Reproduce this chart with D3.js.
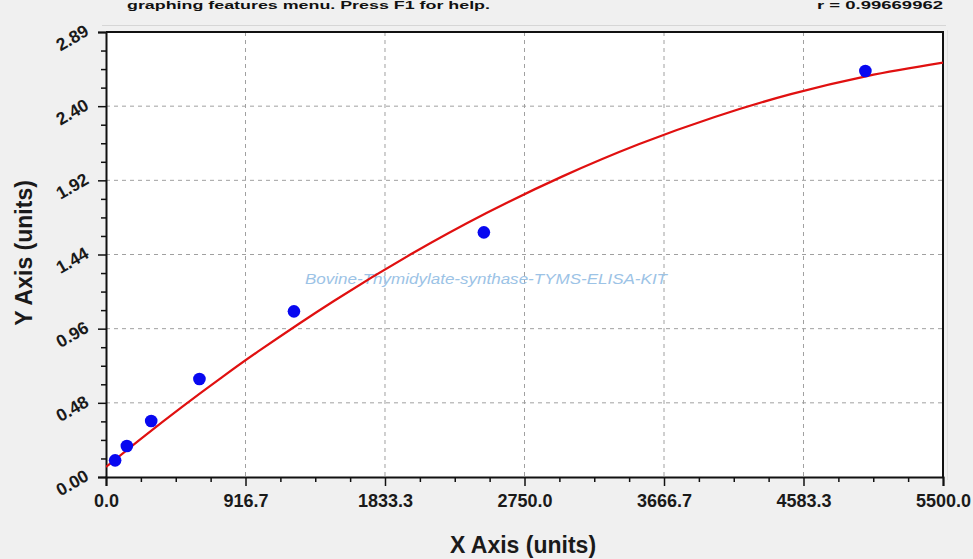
<!DOCTYPE html>
<html>
<head>
<meta charset="utf-8">
<script src="https://cdn.jsdelivr.net/npm/d3@7/dist/d3.min.js"></script>
<style>
  html, body { margin: 0; padding: 0; background: #f0f0f0; }
  svg { display: block; }
  text { font-family: "Liberation Sans", Arial, sans-serif; }
</style>
</head>
<body>
<svg id="chart" width="973" height="559"></svg>
<script>
// ---- data ----
const pointX = [60, 137, 297, 614, 1235, 2483, 4990];
const pointY = [0.108, 0.201, 0.363, 0.635, 1.074, 1.586, 2.632];
const curveX = [0, 250, 500, 750, 1000, 1500, 2000, 2500, 3000, 3500, 4000, 4500, 5000, 5500];
const curveY = [0.065, 0.264, 0.455, 0.638, 0.814, 1.143, 1.442, 1.711, 1.949, 2.157, 2.334, 2.482, 2.599, 2.686];
const xTickValues = [0, 916.7, 1833.3, 2750.0, 3666.7, 4583.3, 5500.0];
const xTickLabels = ["0.0", "916.7", "1833.3", "2750.0", "3666.7", "4583.3", "5500.0"];
const yTickValues = [0, 0.48083, 0.96167, 1.4425, 1.92333, 2.40417, 2.885];
const yTickLabels = ["0.00", "0.48", "0.96", "1.44", "1.92", "2.40", "2.89"];
const xDomain = [0, 5500];
const yDomain = [0, 2.885];
const xTitle = "X Axis (units)";
const yTitle = "Y Axis (units)";
const watermark = "Bovine-Thymidylate-synthase-TYMS-ELISA-KIT";
const topLeftText = "graphing features menu. Press F1 for help.";
const topRightText = "r = 0.99669962";

// ---- layout ----
const L = 106, R = 943, T = 32, B = 477;
const svg = d3.select("#chart");
const x = d3.scaleLinear().domain(xDomain).range([L, R]);
const y = d3.scaleLinear().domain(yDomain).range([B, T]);

svg.append("rect").attr("width", 973).attr("height", 559).attr("fill", "#f0f0f0");

// top status texts (small, kept inside the picture)
svg.append("text").attr("x", 127).attr("y", 9)
  .attr("font-size", 10).attr("font-weight", "bold").attr("fill", "#111")
  .attr("textLength", 363).attr("lengthAdjust", "spacingAndGlyphs")
  .text(topLeftText);
svg.append("text").attr("x", 817).attr("y", 9)
  .attr("font-size", 10).attr("font-weight", "bold").attr("fill", "#111")
  .attr("textLength", 126).attr("lengthAdjust", "spacingAndGlyphs")
  .text(topRightText);

// light separator line
svg.append("line").attr("x1", 102).attr("x2", 946).attr("y1", 25.5).attr("y2", 25.5)
  .attr("stroke", "#d6d6d6").attr("stroke-width", 1);
svg.append("line").attr("x1", 947.5).attr("x2", 947.5).attr("y1", 30).attr("y2", 480)
  .attr("stroke", "#e2e2e2").attr("stroke-width", 1);

// plot background
svg.append("rect").attr("x", L).attr("y", T).attr("width", R - L).attr("height", B - T)
  .attr("fill", "#ffffff");

// grid
const grid = svg.append("g");
grid.selectAll("line.vg").data(xTickValues.slice(1, -1)).join("line")
  .attr("x1", d => x(d)).attr("x2", d => x(d)).attr("y1", T).attr("y2", B)
  .attr("stroke", "#a0a0a0").attr("stroke-width", 1).attr("stroke-dasharray", "4,4");
grid.selectAll("line.hg").data(yTickValues.slice(1, -1)).join("line")
  .attr("x1", L).attr("x2", R).attr("y1", d => y(d)).attr("y2", d => y(d))
  .attr("stroke", "#a0a0a0").attr("stroke-width", 1).attr("stroke-dasharray", "4,4");

// minor ticks values
const xMinor = [], yMinor = [];
for (let i = 0; i < xTickValues.length - 1; i++) {
  const s = (xTickValues[i + 1] - xTickValues[i]) / 4;
  for (let k = 1; k < 4; k++) xMinor.push(xTickValues[i] + k * s);
}
for (let i = 0; i < yTickValues.length - 1; i++) {
  const s = (yTickValues[i + 1] - yTickValues[i]) / 4;
  for (let k = 1; k < 4; k++) yMinor.push(yTickValues[i] + k * s);
}

// x axis
const xAxis = d3.axisBottom(x).tickValues(xTickValues)
  .tickFormat((d, i) => xTickLabels[i]).tickSize(9).tickPadding(8);
const gx = svg.append("g").attr("transform", `translate(0,${B})`).call(xAxis);
gx.select(".domain").attr("stroke", "#111").attr("stroke-width", 2);
gx.selectAll(".tick line").attr("stroke", "#111").attr("stroke-width", 1.5);
gx.selectAll(".tick text").attr("font-size", 18).attr("font-weight", "bold")
  .attr("fill", "#1a1a1a").attr("font-family", "'Liberation Sans', Arial, sans-serif");
const xMinorAxis = d3.axisBottom(x).tickValues(xMinor).tickFormat("").tickSize(5);
const gxm = svg.append("g").attr("transform", `translate(0,${B})`).call(xMinorAxis);
gxm.select(".domain").remove();
gxm.selectAll(".tick line").attr("stroke", "#111").attr("stroke-width", 1.5);

// y axis
const yAxis = d3.axisLeft(y).tickValues(yTickValues)
  .tickFormat((d, i) => yTickLabels[i]).tickSize(8);
const gy = svg.append("g").attr("transform", `translate(${L},0)`).call(yAxis);
gy.select(".domain").attr("stroke", "#111").attr("stroke-width", 2);
gy.selectAll(".tick line").attr("stroke", "#111").attr("stroke-width", 1.5);
gy.selectAll(".tick text")
  .attr("font-size", 17.5).attr("font-weight", "bold").attr("fill", "#1a1a1a")
  .attr("font-family", "'Liberation Sans', Arial, sans-serif")
  .attr("x", null).attr("dy", null)
  .attr("text-anchor", "end")
  .attr("transform", "translate(-16,2) rotate(-30)");
const yMinorAxis = d3.axisLeft(y).tickValues(yMinor).tickFormat("").tickSize(5);
const gym = svg.append("g").attr("transform", `translate(${L},0)`).call(yMinorAxis);
gym.select(".domain").remove();
gym.selectAll(".tick line").attr("stroke", "#111").attr("stroke-width", 1.5);

// top & right frame
svg.append("line").attr("x1", L).attr("x2", R + 1).attr("y1", T).attr("y2", T)
  .attr("stroke", "#111").attr("stroke-width", 2);
svg.append("line").attr("x1", R).attr("x2", R).attr("y1", T).attr("y2", B)
  .attr("stroke", "#111").attr("stroke-width", 2);

// watermark
svg.append("text").attr("x", 486).attr("y", 284).attr("text-anchor", "middle")
  .attr("font-family", "'Open Sans', 'DejaVu Sans', sans-serif")
  .attr("font-style", "italic").attr("font-size", 15).attr("fill", "#9cc3e6")
  .attr("textLength", 362).attr("lengthAdjust", "spacingAndGlyphs")
  .text(watermark);

// clip
svg.append("clipPath").attr("id", "plotclip").append("rect")
  .attr("x", L).attr("y", T).attr("width", R - L).attr("height", B - T);

// fitted curve
const curveData = curveX.map((d, i) => [d, curveY[i]]);
svg.append("path").datum(curveData)
  .attr("clip-path", "url(#plotclip)")
  .attr("d", d3.line().x(d => x(d[0])).y(d => y(d[1])).curve(d3.curveCatmullRom))
  .attr("fill", "none").attr("stroke", "#e01010").attr("stroke-width", 2.2);

// points
svg.append("g").selectAll("circle").data(pointX.map((d, i) => [d, pointY[i]])).join("circle")
  .attr("cx", d => x(d[0])).attr("cy", d => y(d[1])).attr("r", 6.3)
  .attr("fill", "#0808f0");

// axis titles
svg.append("text").attr("x", 523).attr("y", 553).attr("text-anchor", "middle")
  .attr("font-size", 23).attr("font-weight", "bold").attr("fill", "#1a1a1a")
  .text(xTitle);
svg.append("text").attr("transform", "translate(32,253) rotate(-90)").attr("text-anchor", "middle")
  .attr("font-size", 23).attr("font-weight", "bold").attr("fill", "#1a1a1a")
  .text(yTitle);
</script>
</body>
</html>
